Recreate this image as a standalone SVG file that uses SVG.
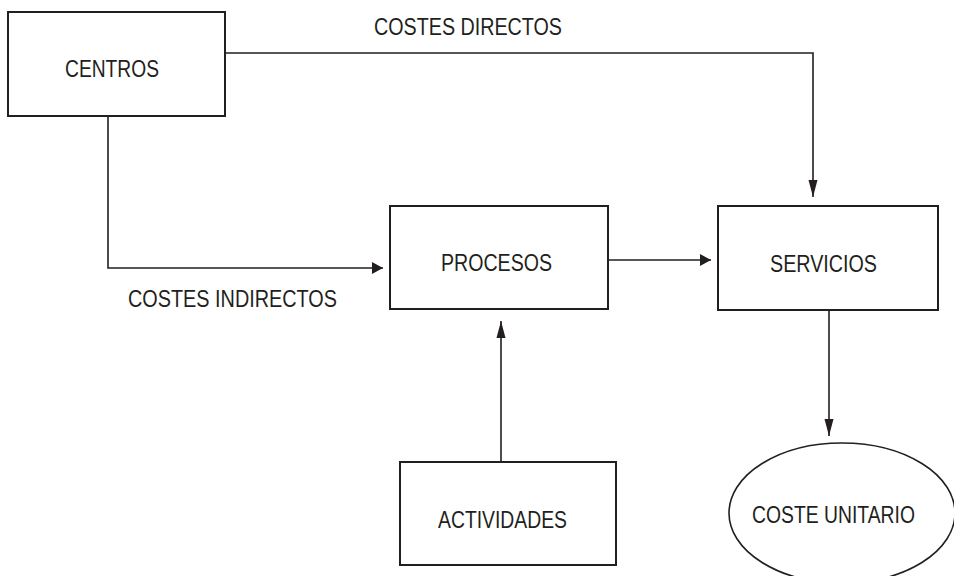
<svg xmlns="http://www.w3.org/2000/svg" width="954" height="576" viewBox="0 0 954 576">
<defs>
<style>
.box{fill:#fff;stroke:#231f20;stroke-width:2}
.con{fill:none;stroke:#231f20;stroke-width:1.6}
.t{font-family:"Liberation Sans",Arial,sans-serif;font-size:24px;fill:#231f20;text-anchor:middle}
</style>
<marker id="ah" markerWidth="12" markerHeight="13" refX="11" refY="6.5" orient="auto" markerUnits="userSpaceOnUse"><path d="M0,0.5 L11,6.5 L0,12.5 z" fill="#231f20"/></marker>
<marker id="av" markerWidth="18" markerHeight="10" refX="17" refY="5" orient="auto" markerUnits="userSpaceOnUse"><path d="M0,0.5 L17,5 L0,9.5 z" fill="#231f20"/></marker>
</defs>
<rect width="954" height="576" fill="#fff"/>
<g id="connectors">
<path class="con" d="M225,53 H813 V197" marker-end="url(#av)"/>
<path class="con" d="M108,116 V268 H383" marker-end="url(#ah)"/>
<path class="con" d="M608,260 H711" marker-end="url(#ah)"/>
<path class="con" d="M501,462 V321" marker-end="url(#av)"/>
<path class="con" d="M829,310 V436" marker-end="url(#av)"/>
<text class="t" x="468" y="35" textLength="188" lengthAdjust="spacingAndGlyphs">COSTES DIRECTOS</text>
<text class="t" x="232.5" y="307" textLength="209" lengthAdjust="spacingAndGlyphs">COSTES INDIRECTOS</text>
</g>
<g id="centros">
<rect class="box" x="8" y="12" width="217" height="104"/>
<text class="t" x="112" y="77" textLength="94" lengthAdjust="spacingAndGlyphs">CENTROS</text>
</g>
<g id="procesos">
<rect class="box" x="390" y="206" width="218" height="103"/>
<text class="t" x="496.5" y="271" textLength="111" lengthAdjust="spacingAndGlyphs">PROCESOS</text>
</g>
<g id="servicios">
<rect class="box" x="718" y="206" width="220" height="104"/>
<text class="t" x="823.5" y="272" textLength="107" lengthAdjust="spacingAndGlyphs">SERVICIOS</text>
</g>
<g id="actividades">
<rect class="box" x="400" y="462" width="216" height="103"/>
<text class="t" x="502.5" y="528" textLength="129" lengthAdjust="spacingAndGlyphs">ACTIVIDADES</text>
</g>
<g id="coste-unitario">
<ellipse cx="842" cy="513" rx="113" ry="70" fill="#fff" stroke="#231f20" stroke-width="1.6"/>
<text class="t" x="833.5" y="523" textLength="163" lengthAdjust="spacingAndGlyphs">COSTE UNITARIO</text>
</g>
</svg>
